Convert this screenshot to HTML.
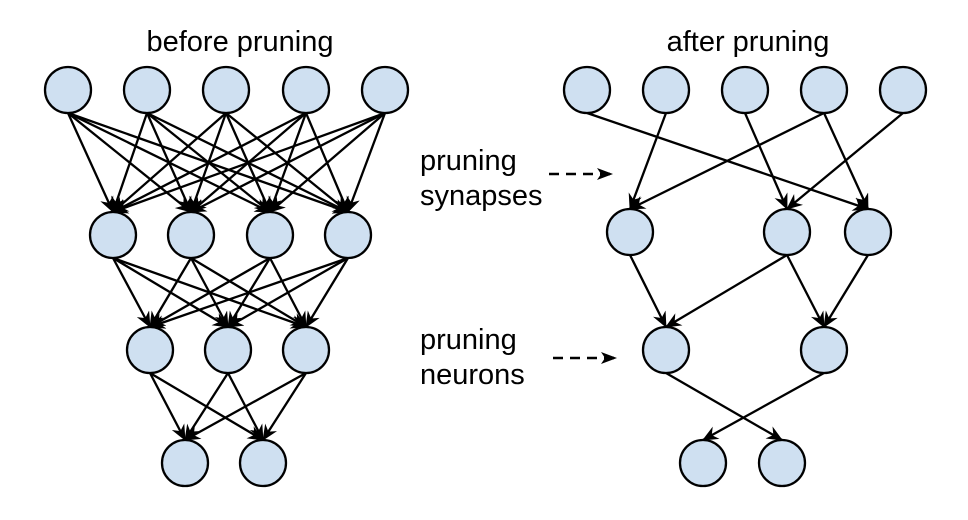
<!DOCTYPE html>
<html><head><meta charset="utf-8">
<style>
html,body{margin:0;padding:0;background:#fff;}
svg{display:block;}
text{font-family:"Liberation Sans",Arial,sans-serif;font-size:29px;fill:#000;}
</style></head>
<body>
<svg id="s" width="968" height="520" viewBox="0 0 968 520" xmlns="http://www.w3.org/2000/svg">
<defs>
<marker id="a" markerWidth="16" markerHeight="14" refX="15" refY="7" orient="auto" markerUnits="userSpaceOnUse">
<path d="M0,0 L16,7 L0,14 L5,7 Z" fill="#000"/>
</marker>
<marker id="b" markerWidth="16" markerHeight="12" refX="15" refY="6" orient="auto" markerUnits="userSpaceOnUse">
<path d="M0,0 L16,6 L0,12 L4,6 Z" fill="#000"/>
</marker>
</defs>
<g id="edges" stroke="#000" stroke-width="2.3" fill="none"></g>
<g id="nodes" fill="#cfe0f1" stroke="#000" stroke-width="2.3"></g>
<text x="240" y="51" text-anchor="middle">before pruning</text>
<text x="748" y="51" text-anchor="middle">after pruning</text>
<text x="420" y="170">pruning</text>
<text x="420" y="205">synapses</text>
<text x="420" y="349">pruning</text>
<text x="420" y="384">neurons</text>
<line x1="549" y1="174" x2="612" y2="174" stroke="#000" stroke-width="2.5" stroke-dasharray="10,7" marker-end="url(#b)"/>
<line x1="553" y1="358" x2="616" y2="358" stroke="#000" stroke-width="2.5" stroke-dasharray="10,7" marker-end="url(#b)"/>
</svg>
<script>
var R=23,NS="http://www.w3.org/2000/svg";
var E=document.getElementById("edges"),N=document.getElementById("nodes");
function node(x,y){var c=document.createElementNS(NS,"circle");c.setAttribute("cx",x);c.setAttribute("cy",y);c.setAttribute("r",R);N.appendChild(c);}
function edge(a,b){
var l=document.createElementNS(NS,"line");
l.setAttribute("x1",a[0]);l.setAttribute("y1",a[1]+R);
l.setAttribute("x2",b[0]);l.setAttribute("y2",b[1]-R);
l.setAttribute("marker-end","url(#a)");E.appendChild(l);}
var L=[[68,147,226,306,385].map(x=>[x,90]),[113,191,270,348].map(x=>[x,235]),[150,228,306].map(x=>[x,350]),[185,263].map(x=>[x,463])];
for(var i=0;i<3;i++)L[i].forEach(a=>L[i+1].forEach(b=>edge(a,b)));
L.forEach(l=>l.forEach(p=>node(p[0],p[1])));
var r1=[587,666,745,824,903].map(x=>[x,90]),r2=[[630,232],[787,232],[868,232]],r3=[[666,350],[824,350]],r4=[[703,463],[782,463]];
[[r1[1],r2[0]],[r1[0],r2[2]],[r1[2],r2[1]],[r1[3],r2[0]],[r1[3],r2[2]],[r1[4],r2[1]],
[r2[0],r3[0]],[r2[1],r3[0]],[r2[1],r3[1]],[r2[2],r3[1]],[r3[0],r4[1]],[r3[1],r4[0]]].forEach(e=>edge(e[0],e[1]));
[r1,r2,r3,r4].forEach(l=>l.forEach(p=>node(p[0],p[1])));
</script>
</body></html>
